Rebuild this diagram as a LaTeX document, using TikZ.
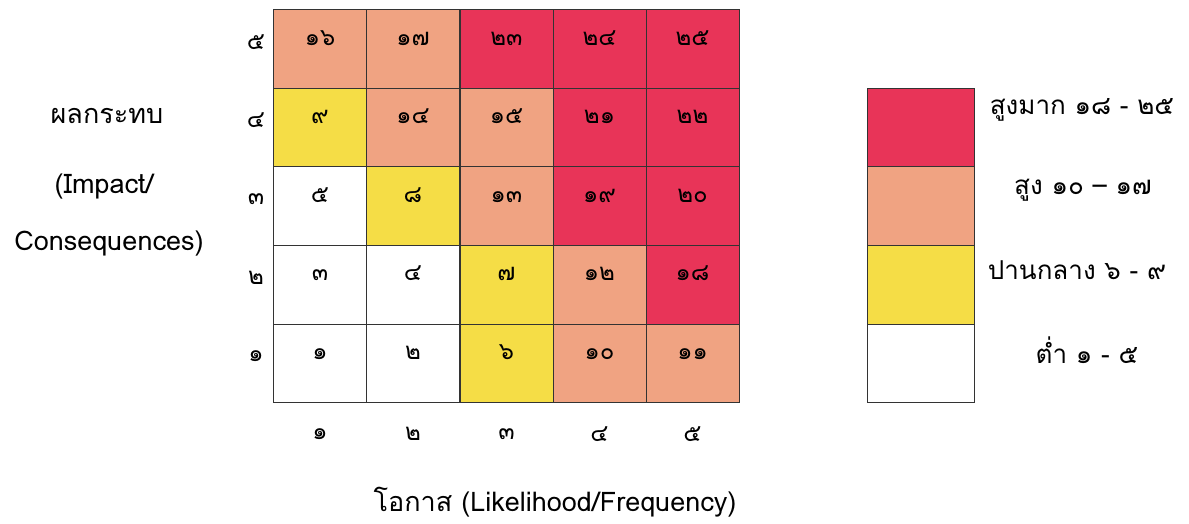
\documentclass[tikz,border=0pt]{standalone}
\usepackage{fontspec}
\setmainfont[Script=Thai]{Loma}
\definecolor{riskhi}{RGB}{232,52,88}
\definecolor{riskmid}{RGB}{240,163,130}
\definecolor{riskmed}{RGB}{245,221,70}
\tikzset{
  cell/.style={draw=black!80, line width=0.9pt, minimum width=93pt, minimum height=78.6pt,
    inner sep=0pt, text height=12pt, text depth=20pt, font=\fontsize{24}{28}\selectfont},
  hi/.style={cell, fill=riskhi},
  mid/.style={cell, fill=riskmid},
  med/.style={cell, fill=riskmed},
  low/.style={cell, fill=white},
  axnum/.style={font=\fontsize{24}{28}\selectfont},
  axlabel/.style={font=\fontsize{27}{32}\selectfont},
  keylabel/.style={font=\fontsize{26}{30}\selectfont},
  keybox/.style={draw=black!80, line width=0.9pt, minimum width=107pt, minimum height=78.6pt, inner sep=0pt}
}
\begin{document}
\begin{tikzpicture}[x=1pt,y=-1pt]
\useasboundingbox (0,0) rectangle (1189,523);

% row 5
\node[mid] (c51) at (320,49)   {๑๖};
\node[mid] (c52) at (413,49)   {๑๗};
\node[hi]  (c53) at (506.5,49) {๒๓};
\node[hi]  (c54) at (599.5,49) {๒๔};
\node[hi]  (c55) at (692.5,49) {๒๕};
% row 4
\node[med] (c41) at (320,127.6)   {๙};
\node[mid] (c42) at (413,127.6)   {๑๔};
\node[mid] (c43) at (506.5,127.6) {๑๕};
\node[hi]  (c44) at (599.5,127.6) {๒๑};
\node[hi]  (c45) at (692.5,127.6) {๒๒};
% row 3
\node[low] (c31) at (320,206.2)   {๕};
\node[med] (c32) at (413,206.2)   {๘};
\node[mid] (c33) at (506.5,206.2) {๑๓};
\node[hi]  (c34) at (599.5,206.2) {๑๙};
\node[hi]  (c35) at (692.5,206.2) {๒๐};
% row 2
\node[low] (c21) at (320,284.8)   {๓};
\node[low] (c22) at (413,284.8)   {๔};
\node[med] (c23) at (506.5,284.8) {๗};
\node[mid] (c24) at (599.5,284.8) {๑๒};
\node[hi]  (c25) at (692.5,284.8) {๑๘};
% row 1
\node[low] (c11) at (320,363.4)   {๑};
\node[low] (c12) at (413,363.4)   {๒};
\node[med] (c13) at (506.5,363.4) {๖};
\node[mid] (c14) at (599.5,363.4) {๑๐};
\node[mid] (c15) at (692.5,363.4) {๑๑};

% impact scale
\node[axnum] (r5) at (256,42)  {๕};
\node[axnum] (r4) at (256,120) {๔};
\node[axnum] (r3) at (256,199) {๓};
\node[axnum] (r2) at (256,278) {๒};
\node[axnum] (r1) at (256,356) {๑};
% likelihood scale
\node[axnum] (k1) at (320,434)   {๑};
\node[axnum] (k2) at (413,434)   {๒};
\node[axnum] (k3) at (506.5,434) {๓};
\node[axnum] (k4) at (599.5,434) {๔};
\node[axnum] (k5) at (692.5,434) {๕};

% axis titles
\node[axlabel] (ytitle) at (107,116) {ผลกระทบ};
\node[axlabel] (yimp)   at (104,187) {(Impact/};
\node[axlabel] (ycons)  at (109,244) {Consequences)};
\node[axlabel] (xtitle) at (555,502) {โอกาส (Likelihood/Frequency)};

% legend
\node[keybox, fill=riskhi]  (key4) at (920.5,127.6) {};
\node[keybox, fill=riskmid] (key3) at (920.5,206.2) {};
\node[keybox, fill=riskmed] (key2) at (920.5,284.8) {};
\node[keybox, fill=white]   (key1) at (920.5,363.4) {};
\node[keylabel] (t4) at (1082,110) {สูงมาก ๑๘ - ๒๕};
\node[keylabel] (t3) at (1083,190) {สูง ๑๐ – ๑๗};
\node[keylabel] (t2) at (1077,270) {ปานกลาง ๖ - ๙};
\node[keylabel] (t1) at (1087,350) {ต่ำ ๑ - ๕};
\end{tikzpicture}
\end{document}
